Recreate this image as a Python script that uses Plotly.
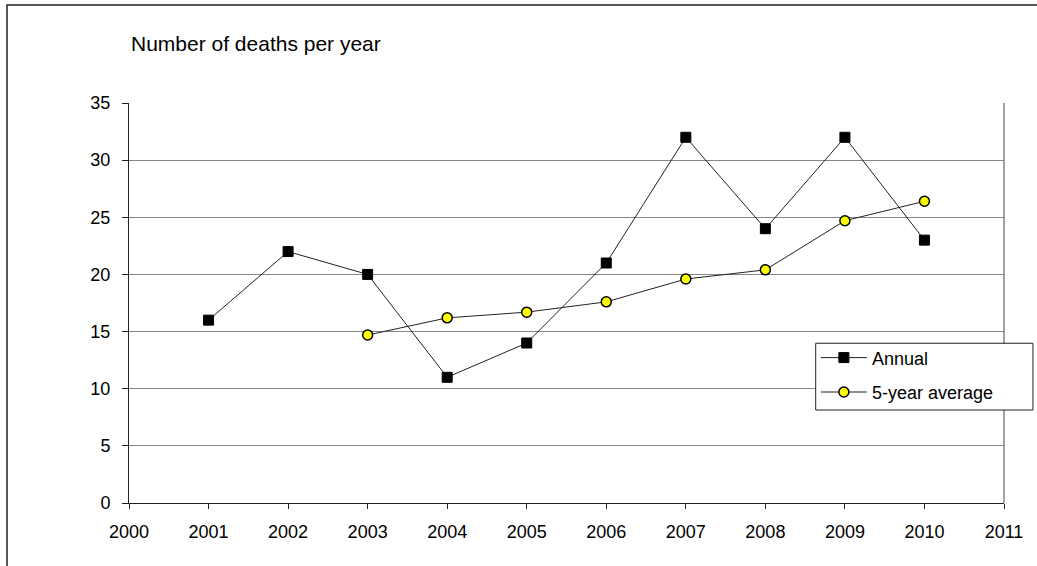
import plotly.graph_objects as go

# Annual death counts
years = [2001, 2002, 2003, 2004, 2005, 2006, 2007, 2008, 2009, 2010]
annual = [16, 22, 20, 11, 14, 21, 32, 24, 32, 23]

# Five-year rolling average
avg_years = [2003, 2004, 2005, 2006, 2007, 2008, 2009, 2010]
avg_5yr = [14.7, 16.2, 16.7, 17.6, 19.6, 20.4, 24.7, 26.4]

x_ticks = list(range(2000, 2012))
y_ticks = [0, 5, 10, 15, 20, 25, 30, 35]

FONT = "Liberation Sans, Arial, sans-serif"

fig = go.Figure()

fig.add_trace(go.Scatter(
    x=years, y=annual, name="Annual", mode="lines+markers",
    legendgroup="a",
    line=dict(color="#222222", width=1),
    marker=dict(symbol="square", size=10, color="black",
                line=dict(color="black", width=1)),
))

fig.add_trace(go.Scatter(
    x=avg_years, y=avg_5yr, name="5-year average", mode="lines+markers",
    legendgroup="b",
    line=dict(color="#222222", width=1),
    marker=dict(symbol="circle", size=10, color="#FFFF00",
                line=dict(color="black", width=1.5)),
))

fig.update_layout(
    width=1037, height=566,
    margin=dict(l=129, r=33, t=103, b=63),
    paper_bgcolor="white", plot_bgcolor="white",
    font=dict(family=FONT, size=18, color="black"),
    showlegend=True,
    legend=dict(
        x=0.785, y=0.409, xanchor="left", yanchor="top",
        bgcolor="rgba(0,0,0,0)", borderwidth=0,
        font=dict(family=FONT, size=18, color="black"),
        traceorder="grouped", tracegroupgap=8,
        itemwidth=46,
    ),
    xaxis=dict(
        range=[2000, 2011], tickvals=x_ticks, ticktext=[str(v) for v in x_ticks],
        showgrid=False, zeroline=False,
        showline=True, linecolor="#222222", linewidth=1,
        ticks="outside", ticklen=5, tickcolor="#222222",
        ticklabelstandoff=7,
        tickfont=dict(family=FONT, size=18, color="black"),
    ),
    yaxis=dict(
        range=[0, 35], tickvals=y_ticks,
        showgrid=True, gridcolor="#858585", gridwidth=1, zeroline=False,
        showline=True, linecolor="#222222", linewidth=1,
        ticks="outside", ticklen=6, tickcolor="#222222",
        ticklabelstandoff=8,
        tickfont=dict(family=FONT, size=18, color="black"),
    ),
    annotations=[dict(
        text="Number of deaths per year", xref="paper", yref="paper",
        x=0.0, y=1.15, xanchor="left", yanchor="middle", showarrow=False,
        font=dict(family=FONT, size=21, color="black"),
    )],
    shapes=[
        # right edge of the plotting area
        dict(type="line", xref="paper", yref="paper", x0=1, x1=1, y0=0, y1=1,
             line=dict(color="#858585", width=1.5)),
        # outer chart frame
        dict(type="rect", xref="paper", yref="paper",
             x0=-0.1394, x1=1.2, y0=-0.3, y1=1.245,
             line=dict(color="#222222", width=1.5), layer="below"),
        # legend box
        dict(type="rect", xref="paper", yref="paper",
             x0=0.7848, x1=1.0331, y0=0.2325, y1=0.3993,
             fillcolor="white", line=dict(color="#222222", width=1),
             layer="above"),
    ],
)

fig.write_html("out.html")
